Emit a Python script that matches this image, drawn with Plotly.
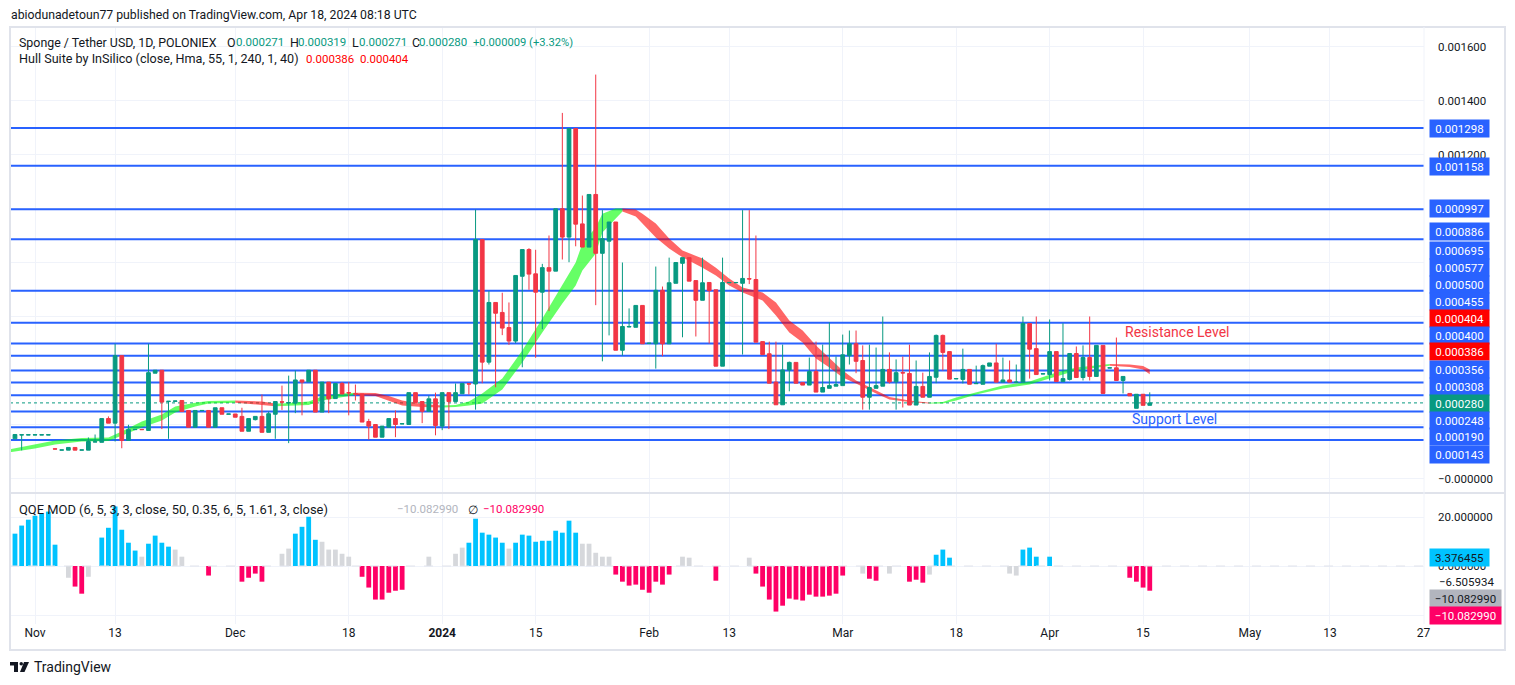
import pandas as pd
import plotly.graph_objects as go

UNIT = 1e-6

opens = [
    147, 161, 161, 161, 161, 161, 110, 105, 105, 115,
    105, 105, 135, 134, 222, 205, 455, 141, 181, 182,
    178, 390, 401, 285, 286, 289, 252, 190, 251, 252,
    190, 262, 238, 239, 230, 175, 218, 230, 171, 238,
    284, 280, 279, 365, 358, 401, 246, 357, 296, 352,
    318, 314, 313, 211, 200, 153, 190, 222, 202, 200,
    318, 285, 249, 295, 194, 318, 285, 314, 351, 350,
    885, 431, 652, 615, 559, 509, 749, 848, 758, 690,
    781, 768, 999, 894, 1296, 943, 857, 1052, 834, 879,
    950, 475, 561, 560, 641, 500, 499, 697, 499, 723,
    797, 818, 733, 660, 726, 699, 416, 725, 725, 723,
    740, 737, 507, 462, 357, 273, 402, 430, 355, 346,
    396, 320, 334, 342, 344, 455, 499, 437, 301, 334,
    342, 404, 358, 392, 389, 272, 341, 301, 375, 530,
    470, 369, 367, 404, 351, 349, 416, 428, 357, 365,
    356, 357, 574, 481, 387, 385, 470, 359, 367, 463,
    374, 448, 378, 493, 409, 410, 363, 315, 260, 312,
    271,
]
highs = [
    163, 162, 162, 162, 162, 162, 110, 106, 115, 115,
    106, 152, 163, 222, 230, 499, 455, 199, 182, 182,
    499, 401, 401, 286, 287, 289, 252, 252, 252, 252,
    262, 262, 239, 239, 262, 222, 230, 311, 248, 285,
    344, 381, 400, 365, 401, 401, 357, 357, 352, 357,
    357, 348, 313, 221, 200, 194, 222, 252, 203, 318,
    318, 285, 307, 318, 318, 318, 352, 352, 351, 996,
    885, 694, 652, 688, 652, 752, 848, 853, 847, 795,
    900, 999, 1354, 1296, 1296, 1048, 1052, 1496, 994, 950,
    950, 800, 630, 641, 641, 501, 785, 711, 818, 800,
    818, 818, 733, 818, 726, 699, 818, 726, 726, 994,
    994, 900, 507, 507, 507, 496, 433, 430, 355, 448,
    507, 496, 578, 452, 533, 548, 548, 493, 496, 485,
    600, 467, 441, 452, 496, 437, 392, 467, 533, 533,
    470, 370, 481, 404, 418, 422, 428, 499, 448, 437,
    422, 600, 574, 600, 388, 589, 470, 575, 463, 489,
    493, 600, 493, 493, 410, 522, 378, 315, 312, 312,
    319,
]
lows = [
    147, 104, 161, 161, 161, 161, 109, 105, 105, 105,
    105, 105, 135, 134, 205, 137, 112, 141, 181, 181,
    178, 390, 183, 147, 286, 248, 190, 190, 251, 190,
    190, 238, 238, 227, 175, 175, 215, 171, 171, 147,
    254, 131, 242, 234, 358, 246, 246, 242, 296, 313,
    234, 289, 209, 144, 153, 153, 190, 153, 202, 200,
    281, 205, 249, 160, 179, 183, 285, 314, 311, 255,
    353, 422, 338, 531, 495, 501, 412, 699, 447, 553,
    620, 768, 811, 801, 860, 857, 857, 642, 434, 530,
    475, 455, 560, 560, 499, 500, 407, 453, 499, 723,
    523, 731, 526, 660, 500, 416, 416, 725, 725, 459,
    720, 505, 459, 353, 273, 273, 323, 353, 346, 346,
    320, 320, 334, 342, 344, 422, 390, 255, 255, 334,
    342, 352, 255, 263, 272, 272, 301, 301, 353, 400,
    368, 369, 352, 349, 351, 349, 416, 357, 357, 357,
    356, 357, 370, 385, 387, 363, 359, 359, 363, 374,
    363, 363, 378, 315, 409, 363, 315, 306, 260, 271,
    271,
]
closes = [
    163, 162, 162, 162, 162, 162, 109, 106, 115, 105,
    106, 137, 136, 222, 205, 455, 141, 181, 182, 181,
    392, 401, 283, 286, 287, 248, 190, 252, 252, 190,
    262, 238, 239, 227, 175, 222, 230, 171, 240, 285,
    283, 281, 365, 357, 401, 246, 357, 295, 352, 313,
    317, 313, 209, 194, 153, 194, 222, 200, 203, 318,
    281, 249, 295, 196, 318, 285, 318, 352, 350, 885,
    431, 652, 612, 557, 509, 752, 848, 757, 690, 781,
    768, 999, 894, 1296, 942, 857, 1052, 834, 888, 950,
    475, 563, 563, 641, 499, 501, 697, 499, 725, 800,
    818, 731, 660, 725, 696, 416, 726, 726, 726, 741,
    739, 505, 459, 353, 273, 402, 430, 353, 346, 396,
    320, 337, 344, 348, 458, 499, 434, 301, 337, 344,
    404, 358, 392, 391, 272, 341, 301, 378, 530, 467,
    368, 370, 404, 349, 352, 418, 428, 357, 365, 357,
    357, 574, 479, 385, 388, 470, 359, 370, 463, 374,
    448, 378, 493, 315, 410, 363, 378, 306, 312, 271,
    280,
]
dates = pd.date_range("2023-10-29", periods=len(closes), freq="D")

# QQE histogram, 0 where nothing shows. state: u up, d down, f neutral, . none
qqe_values = [
    13.2, 16.5, 18.9, 20.5, 21.4, 22.2, 8.7, 0, -4.8, -8.4,
    -11.3, -4.4, 0, 11.6, 15.6, 24.3, 14.8, 9.5, 6.3, 3.8,
    9.1, 12.4, 9.5, 7.9, 6.7, 3.8, 0, 0, 0, -3.9,
    0, 0, 0, 0, -6.4, -4.8, -3.1, -6.4, 0, 0,
    5.0, 7.1, 13.2, 16.0, 20.1, 10.7, 9.9, 6.7, 6.7, 5.0,
    3.8, 0, -4.4, -8.8, -13.7, -13.7, -10.9, -10.1, -9.7, 0,
    0, 0, 3.8, 0, 0, 0, 5.0, 7.5, 9.5, 19.3,
    13.6, 12.8, 11.6, 9.5, 7.1, 9.5, 12.8, 12.4, 9.9, 10.3,
    10.3, 14.4, 13.6, 18.5, 13.6, 9.1, 9.1, 5.4, 3.8, 3.8,
    -3.5, -6.4, -8.0, -7.6, -9.7, -10.9, -6.4, -7.6, -3.5, 0,
    3.8, 3.4, 0, 0, 0, -6.0, 0, 0, 0, 0,
    3.4, -3.1, -8.4, -13.7, -18.6, -16.2, -13.3, -13.7, -14.1, -11.7,
    -12.5, -12.5, -12.1, -11.3, -3.9, 0, 0, -3.1, -5.2, -6.0,
    0, -3.1, 0, 0, -6.4, -5.6, -6.8, -3.5, 4.6, 6.7,
    3.4, 0, 0, 0, 0, 0, 0, 0, 0, -3.1,
    -3.9, 6.7, 7.5, 3.8, 0, 3.8, 0, 0, 0, 0,
    0, 0, 0, 0, 0, 0, 0, -4.8, -6.4, -8.8,
    -10.08,
]
qqe_state = (
    "uuuuuuu.fd" "df.uuuuuuf" "uuuuff...d" "....dddd.." "ffuuuuffff"
    "f.ddddddd." "..f...ffuu" "uuuufuuuuu" "uuuuufffff" "ddddddddd."
    "ff...d...." "fddddddddd" "ddddd..fdd" ".f..dddfuu" "u........f"
    "fuuu.u...." ".......ddd" "d"
)

# Hull band, one (dates, upper, lower) per colour run
hull_green = [
    (["2023-10-28", "2023-11-01", "2023-11-04", "2023-11-08", "2023-11-12", "2023-11-14",
      "2023-11-17", "2023-11-20", "2023-11-22", "2023-11-25", "2023-11-27", "2023-12-01"],
     [107, 126, 141, 150, 152, 174, 211, 237, 267, 281, 287, 289],
     [96, 111, 126, 137, 139, 159, 189, 215, 244, 267, 278, 281]),
    (["2023-12-07", "2023-12-08", "2023-12-12", "2023-12-14", "2023-12-17", "2023-12-19"],
     [278, 278, 285, 304, 315, 318],
     [268, 268, 272, 289, 300, 309]),
    (["2024-01-01", "2024-01-03", "2024-01-05", "2024-01-07", "2024-01-10", "2024-01-13", "2024-01-16",
      "2024-01-19", "2024-01-21", "2024-01-22", "2024-01-24", "2024-01-25", "2024-01-27", "2024-01-28"],
     [270, 272, 285, 315, 370, 474, 593, 715, 800, 870, 930, 981, 1000, 1000],
     [263, 265, 270, 278, 330, 430, 541, 648, 715, 770, 833, 911, 963, 989]),
    (["2024-03-14", "2024-03-16", "2024-03-18", "2024-03-21", "2024-03-25", "2024-03-29",
      "2024-04-02", "2024-04-05", "2024-04-10"],
     [281, 283, 300, 318, 344, 359, 393, 411, 424],
     [278, 278, 289, 311, 333, 348, 378, 400, 418]),
]
hull_red = [
    (["2023-12-01", "2023-12-05", "2023-12-07"],
     [289, 285, 278],
     [281, 272, 268]),
    (["2023-12-19", "2023-12-22", "2023-12-24", "2023-12-26", "2023-12-29", "2024-01-01"],
     [318, 317, 306, 289, 276, 270],
     [309, 306, 287, 270, 265, 263]),
    (["2024-01-28", "2024-01-30", "2024-01-31", "2024-02-02", "2024-02-04", "2024-02-06", "2024-02-09",
      "2024-02-11", "2024-02-13", "2024-02-15", "2024-02-18", "2024-02-20", "2024-02-22", "2024-02-24",
      "2024-02-26", "2024-02-28", "2024-03-01", "2024-03-03", "2024-03-06", "2024-03-08", "2024-03-11",
      "2024-03-14"],
     [1000, 996, 981, 944, 889, 844, 815, 781, 741, 707, 689, 652, 585, 548,
      493, 448, 400, 363, 326, 302, 289, 281],
     [989, 970, 944, 893, 852, 819, 781, 752, 715, 689, 659, 604, 541, 504,
      444, 411, 374, 352, 315, 293, 283, 278]),
    (["2024-04-10", "2024-04-13", "2024-04-15", "2024-04-16"],
     [424, 422, 417, 404],
     [418, 413, 404, 386]),
]

level_values = [1298, 1158, 997, 886, 695, 577, 500, 455, 400, 356, 308, 248, 190, 143]
last_close = 280

# the others sit behind the tags, so only their grid lines show
price_ticks = [0.0016, 0.0014, 0.0012, 0.0010, 0.0008, 0.0006, 0.0004, 0.0002, 0.0]
price_tick_text = ["0.001600", "0.001400", "0.001200", "", "", "", "", "", "\u22120.000000"]
qqe_ticks = [20, 0, -20]
qqe_tick_text = ["20.000000", "0.000000", ""]
time_ticks = ["2023-11-01", "2023-11-13", "2023-12-01", "2023-12-18", "2024-01-01", "2024-01-15",
              "2024-02-01", "2024-02-13", "2024-03-01", "2024-03-18", "2024-04-01", "2024-04-15",
              "2024-05-01", "2024-05-13", "2024-05-27"]
time_tick_text = ["Nov", "13", "Dec", "18", "<b>2024</b>", "15", "Feb", "13", "Mar", "18", "Apr", "15",
                  "May", "13", "27"]

# tags stacked on the price scale: text, colour, centre y in pixels
price_tags = [
    ("0.001298", "#2962ff", 128), ("0.001158", "#2962ff", 166), ("0.000997", "#2962ff", 209),
    ("0.000886", "#2962ff", 232), ("0.000695", "#2962ff", 250), ("0.000577", "#2962ff", 267),
    ("0.000500", "#2962ff", 284), ("0.000455", "#2962ff", 301), ("0.000404", "#ff0000", 318),
    ("0.000400", "#2962ff", 335), ("0.000386", "#ff0000", 352), ("0.000356", "#2962ff", 369),
    ("0.000308", "#2962ff", 386), ("0.000280", "#089981", 403), ("0.000248", "#2962ff", 420),
    ("0.000190", "#2962ff", 437), ("0.000143", "#2962ff", 454),
]

assert len(opens) == len(highs) == len(lows) == len(closes) == len(qqe_values) == len(qqe_state)

FONT = "Roboto"
NUM_SIZE = 11.5
TEXT = "#131722"
GRID = "#f0f3fa"
BORDER = "#e0e3eb"
GREEN = "#089981"
RED = "#f23645"
BLUE = "#2962ff"
PANE_LEFT, PANE_RIGHT, PANE_TOP, PANE_BOTTOM = 10, 1424, 27, 624


def px(x):
    return (x - PANE_LEFT) / (PANE_RIGHT - PANE_LEFT)


def py(y):
    return (PANE_BOTTOM - y) / (PANE_BOTTOM - PANE_TOP)


def scaled(values):
    return [v * UNIT for v in values]


def label(text, x, y, color=TEXT, size=12.4, xanchor="left"):
    return dict(text=text, x=px(x), y=py(y), xref="paper", yref="paper", xanchor=xanchor, yanchor="middle",
                showarrow=False, font=dict(family=FONT, size=size, color=color), borderpad=0)


def tag(text, color, y, width=59, font_color="white"):
    return dict(text=text, x=px(1429), y=py(y), xref="paper", yref="paper", xanchor="left", yanchor="middle",
                showarrow=False, width=width, height=17, bgcolor=color, align="center", borderpad=0,
                font=dict(family=FONT, size=NUM_SIZE, color=font_color))


x_range = ["2023-10-28 06:07", "2024-05-27 02:00"]
price_range = [-14.5 / 270000, 451.5 / 270000]
axis_font = dict(family=FONT, size=NUM_SIZE, color=TEXT)

fig = go.Figure()

for band, fill in [(hull_green, "rgba(0,255,0,0.6)"), (hull_red, "rgba(255,0,0,0.6)")]:
    for seg_dates, upper, lower in band:
        fig.add_trace(go.Scatter(
            x=seg_dates + seg_dates[::-1],
            y=scaled(upper) + scaled(lower[::-1]),
            mode="lines", fill="toself", fillcolor=fill, line=dict(width=0),
            hoverinfo="skip", xaxis="x", yaxis="y",
        ))

# on an overlaid y axis so candles stay above the band
fig.add_trace(go.Candlestick(
    x=dates, open=scaled(opens), high=scaled(highs), low=scaled(lows), close=scaled(closes),
    increasing=dict(line=dict(color=GREEN, width=1), fillcolor=GREEN),
    decreasing=dict(line=dict(color=RED, width=1), fillcolor=RED),
    xaxis="x", yaxis="y3",
))

state_colors = {"u": "#00c3ff", "d": "#ff0066", "f": "#d6d8dc", ".": "#d6d8dc"}
fig.add_trace(go.Bar(
    x=dates, y=qqe_values, marker=dict(color=[state_colors[s] for s in qqe_state], line=dict(width=0)),
    xaxis="x2", yaxis="y2",
))

shapes = []
# xref has to be the axis here, "between" only works on a real subplot
for level in level_values:
    shapes.append(dict(type="line", xref="x", yref="y", x0=x_range[0], x1=x_range[1],
                       y0=level * UNIT, y1=level * UNIT, line=dict(color=BLUE, width=2), layer="between"))
shapes.append(dict(type="line", xref="x", yref="y", x0=x_range[0], x1=x_range[1],
                   y0=last_close * UNIT, y1=last_close * UNIT,
                   line=dict(color=GREEN, width=1, dash="dot"), layer="between"))
shapes.append(dict(type="line", xref="paper", yref="y2", x0=0, x1=1, y0=0, y1=0,
                   line=dict(color=BORDER, width=1, dash="dash"), layer="above"))
# frame, pane separator, price scale edge
frame = dict(xref="paper", yref="paper", line=dict(color=BORDER, width=2))
shapes.append(dict(type="rect", x0=px(10), x1=px(1505), y0=py(27), y1=py(650), **frame))
shapes.append(dict(type="line", x0=px(10), x1=px(1505), y0=py(493), y1=py(493), **frame))
shapes.append(dict(type="line", xref="paper", yref="paper", x0=1, x1=1, y0=py(27), y1=py(624),
                   line=dict(color=GRID, width=1)))
# TradingView logo
logo = dict(xref="paper", yref="paper", fillcolor=TEXT, line=dict(width=0))
shapes.append(dict(type="rect", x0=px(10), x1=px(18), y0=py(662), y1=py(665.5), **logo))
shapes.append(dict(type="rect", x0=px(14), x1=px(18), y0=py(662), y1=py(672), **logo))
shapes.append(dict(type="circle", x0=px(19.5), x1=px(23), y0=py(662), y1=py(665.5), **logo))
shapes.append(dict(type="path", path=f"M {px(24)} {py(662)} L {px(29)} {py(662)} L {px(24.5)} {py(672)} "
                                     f"L {px(20)} {py(672)} Z", **logo))

annotations = [
    label("abiodunadetoun77 published on TradingView.com, Apr 18, 2024 08:18 UTC", 10, 15, size=12.25),
    label("Sponge / Tether USD, 1D, POLONIEX", 18, 42),
    label("O", 226, 42), label("0.000271", 235, 42, GREEN, NUM_SIZE),
    label("H", 289, 42), label("0.000319", 297, 42, GREEN, NUM_SIZE),
    label("L", 351, 42), label("0.000271", 358, 42, GREEN, NUM_SIZE),
    label("C", 411, 42), label("0.000280", 418, 42, GREEN, NUM_SIZE),
    label("+0.000009 (+3.32%)", 472, 42, GREEN, 11.2),
    label("Hull Suite by InSilico (close, Hma, 55, 1, 240, 1, 40)", 18, 59, size=12.6),
    label("0.000386", 305, 59, "#ff0000", NUM_SIZE), label("0.000404", 359, 59, "#ff0000", NUM_SIZE),
    label("QQE MOD (6, 5, 3, 3, close, 50, 0.35, 6, 5, 1.61, 3, close)", 18, 509, size=12.9),
    label("\u221210.082990", 396, 509, "#b2b5be", NUM_SIZE),
    label("\u2205", 467, 509),
    label("\u221210.082990", 482, 509, "#ff0066", NUM_SIZE),
    label("Resistance Level", 1124, 332, RED, 14),
    label("Support Level", 1131, 419, BLUE, 14),
    label("TradingView", 33, 667, TEXT, 14),
    label("\u22126.505934", 1438, 582, TEXT, NUM_SIZE),
]
annotations += [tag(t, c, y) for t, c, y in price_tags]
annotations += [
    tag("3.376455", "#00c3ff", 557.5, font_color=TEXT),
    tag("\u221210.082990", "#b2b5be", 598.5, width=71, font_color=TEXT),
    tag("\u221210.082990", "#ff0066", 615.5, width=71),
]

fig.update_layout(
    width=1515, height=685, autosize=False,
    margin=dict(l=PANE_LEFT, r=1515 - PANE_RIGHT, t=PANE_TOP, b=685 - PANE_BOTTOM),
    paper_bgcolor="white", plot_bgcolor="white", showlegend=False, hovermode=False,
    bargap=0.28, boxgap=0.2,
    shapes=shapes, annotations=annotations,
    xaxis=dict(domain=[0, 1], range=x_range, type="date", anchor="y", tickvals=time_ticks, showticklabels=False,
               showgrid=True, gridcolor=GRID, zeroline=False, rangeslider=dict(visible=False)),
    xaxis2=dict(domain=[0, 1], range=x_range, type="date", anchor="y2", tickvals=time_ticks,
                ticktext=time_tick_text, showgrid=True, gridcolor=GRID, zeroline=False,
                tickfont=dict(family=FONT, size=12, color=TEXT), ticks="", tickangle=0),
    yaxis=dict(domain=[py(493), 1], range=price_range, side="right", anchor="x", tickvals=price_ticks,
               ticktext=price_tick_text, showgrid=True, gridcolor=GRID, zeroline=False, tickfont=axis_font,
               ticks="", ticklabelstandoff=13),
    yaxis3=dict(range=price_range, overlaying="y", side="right", anchor="x", visible=False),
    yaxis2=dict(domain=[0, py(494)], range=[(566 - 624) / 2.45, (566 - 494) / 2.45], side="right", anchor="x2",
                tickvals=qqe_ticks, ticktext=qqe_tick_text, showgrid=True, gridcolor=GRID, zeroline=False,
                tickfont=axis_font, ticks="", ticklabelstandoff=13),
)

fig.write_html("out.html", config={"displayModeBar": False},
               post_script="document.body.style.margin='0'")
